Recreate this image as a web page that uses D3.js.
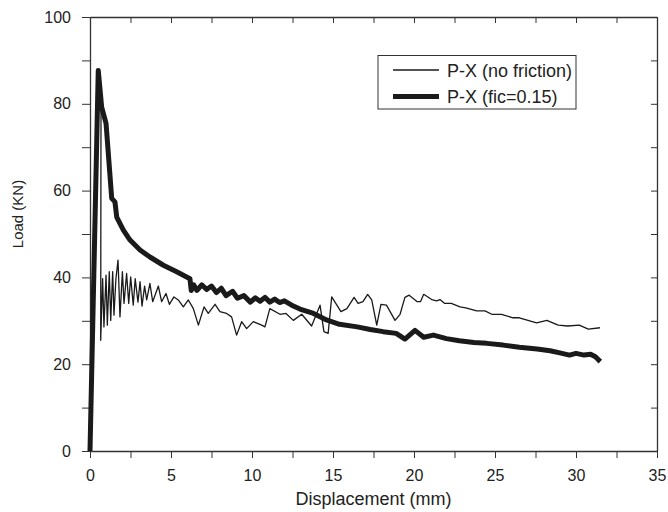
<!DOCTYPE html>
<html>
<head>
<meta charset="utf-8">
<script src="https://d3js.org/d3.v7.min.js"></script>
<style>
  body { margin: 0; background: #fff; }
  text { font-family: "Liberation Sans", Arial, sans-serif; fill: #222; }
</style>
</head>
<body>
<div id="chart"></div>
<script>

// series: displacement (mm) and load (KN)
var noFrictionX = [0, 0.5, 0.68, 0.66, 0.78, 0.86, 0.99, 1.07, 1.19, 1.28, 1.40, 1.48, 1.60, 1.73, 1.85, 2.0, 2.1, 2.26, 2.39, 2.51, 2.67, 2.79, 2.96, 3.09, 3.21, 3.37, 3.5, 3.7, 3.87, 4.22, 4.42, 4.69, 4.9, 5.18, 5.45, 5.76, 6.07, 6.38, 6.69, 7.04, 7.3, 7.72, 8.02, 8.43, 8.74, 9.05, 9.36, 9.67, 10.08, 10.6, 10.8, 11.1, 11.73, 12.1, 12.55, 13.07, 13.68, 14.2, 14.44, 14.7, 14.92, 15.49, 15.86, 16.3, 16.55, 16.85, 17.14, 17.39, 17.7, 17.96, 18.3, 18.83, 19.14, 19.44, 19.7, 20.2, 20.4, 20.6, 21.09, 21.4, 21.6, 21.9, 22.3, 22.84, 23.2, 23.87, 24.38, 24.8, 25.4, 26.1, 26.5, 27.57, 28.2, 28.9, 29.5, 30.2, 30.76, 31.48];
var noFrictionY = [0, 87, 80, 25.5, 39.7, 28.6, 40.5, 29, 41.3, 30.1, 41.3, 31.3, 39.7, 44, 30.9, 41.3, 34, 40.9, 34, 40.1, 33.6, 39.7, 34.3, 39, 33.4, 38, 34.8, 38.6, 34.4, 38, 34.4, 36.3, 33.8, 35.5, 34.8, 33.2, 34.8, 32.8, 29, 33.2, 31.7, 33.8, 32.1, 31.7, 30.9, 26.7, 29.8, 28.2, 29.8, 29, 28.6, 32.8, 31.5, 31.7, 30.1, 31.5, 28.8, 33.6, 27.5, 27.1, 35.5, 32.1, 32.8, 35.4, 34, 34.4, 36.1, 34.8, 29, 33.8, 33.6, 30.1, 31.5, 35.4, 35.9, 34.4, 34.4, 36.1, 34.9, 34.6, 34.9, 34.0, 34.0, 33.2, 33.0, 32.3, 32.3, 31.5, 31.5, 30.7, 30.7, 29.5, 30.1, 29, 28.8, 29, 28.1, 28.4];

var frictionX = [0, 0.51, 0.72, 0.99, 1.34, 1.54, 1.65, 2.06, 2.47, 3.09, 3.7, 4.53, 5.35, 6.17, 6.25, 6.4, 6.6, 6.9, 7.2, 7.5, 7.8, 8.1, 8.4, 8.8, 9.1, 9.5, 9.9, 10.2, 10.5, 10.8, 11.1, 11.4, 11.7, 12.0, 12.45, 12.96, 13.8, 14.6, 15.4, 16.5, 17.3, 18.1, 18.9, 19.44, 20.06, 20.6, 21.2, 22.0, 22.8, 23.7, 24.5, 25.5, 26.5, 27.6, 28.4, 29.0, 29.6, 30.0, 30.5, 30.9, 31.2, 31.5];
var frictionY = [0, 87.7, 79.2, 75.5, 58.2, 57.4, 53.9, 50.9, 48.6, 46.3, 44.7, 42.8, 41.3, 39.7, 37, 38.3, 37, 38.3, 37.2, 38, 36.5, 37.5, 35.8, 36.8, 35.2, 35.8, 34.3, 35.3, 34.5, 35.4, 34.3, 35, 34.2, 34.6, 33.6, 32.7, 31.7, 30.2, 29.2, 28.6, 28.0, 27.5, 27.1, 25.8, 27.8, 26.2, 26.7, 25.9, 25.4, 25.0, 24.8, 24.4, 23.9, 23.5, 23.1, 22.6, 22.1, 22.5, 22.1, 22.3, 21.7, 20.6];

var xTicks = [0, 5, 10, 15, 20, 25, 30, 35];
var yTicks = [0, 20, 40, 60, 80, 100];
var seriesNames = ["P-X (no friction)", "P-X (fic=0.15)"];

var margin = {top: 17, right: 11, bottom: 61, left: 90},
    width = 668 - margin.left - margin.right,
    height = 512 - margin.top - margin.bottom;

var svg = d3.select("#chart")
  .append("svg")
    .attr("width", 668)
    .attr("height", 512)
  .append("g")
    .attr("transform", "translate(" + margin.left + "," + margin.top + ")");

var x = d3.scaleLinear().domain([0, 35]).range([0, width]);
var y = d3.scaleLinear().domain([0, 100]).range([height, 0]);

var minorX = d3.range(0, 35.01, 2.5);
var minorY = d3.range(0, 100.01, 10);

function styleAxis(g) {
  g.select(".domain").attr("stroke", "#333").attr("stroke-width", 1.3);
  g.selectAll(".tick line").attr("stroke", "#333").attr("stroke-width", 1);
  g.selectAll(".tick text").style("font-size", "16px").attr("fill", "#222");
}

// bottom axis: minor ticks every 2.5, labels every 5
svg.append("g")
  .attr("transform", "translate(0," + height + ")")
  .call(d3.axisBottom(x).tickValues(minorX).tickSizeOuter(0).tickSizeInner(7)
    .tickFormat(function(d) { return xTicks.indexOf(d) >= 0 ? d : ""; }))
  .call(styleAxis)
  .call(function(g) { g.selectAll(".tick text").attr("dy", "1.25em"); });

// left axis
svg.append("g")
  .call(d3.axisLeft(y).tickValues(minorY).tickSizeOuter(0).tickSizeInner(8)
    .tickFormat(function(d) { return yTicks.indexOf(d) >= 0 ? d : ""; }))
  .call(styleAxis)
  .call(function(g) { g.selectAll(".tick text").attr("x", -19); });

// top and right axes, ticks pointing in
svg.append("g")
  .call(d3.axisBottom(x).tickValues(minorX).tickSizeOuter(0).tickSizeInner(6).tickFormat(""))
  .call(styleAxis);
svg.append("g")
  .attr("transform", "translate(" + width + ",0)")
  .call(d3.axisLeft(y).tickValues(minorY).tickSizeOuter(0).tickSizeInner(6).tickFormat(""))
  .call(styleAxis);

// axis titles
svg.append("text")
  .attr("x", width / 2)
  .attr("y", height + 54)
  .style("text-anchor", "middle")
  .style("font-size", "18px")
  .text("Displacement (mm)");

svg.append("text")
  .attr("transform", "rotate(-90)")
  .attr("x", -(height / 2) + 20)
  .attr("y", -67)
  .style("text-anchor", "middle")
  .style("font-size", "15px")
  .text("Load (KN)");

var line = d3.line()
  .x(function(d) { return x(d[0]); })
  .y(function(d) { return y(d[1]); });

var thinData = d3.zip(noFrictionX, noFrictionY);
var thickData = d3.zip(frictionX, frictionY);

svg.append("path")
  .datum(thinData)
  .attr("fill", "none")
  .attr("stroke", "#1a1a1a")
  .attr("stroke-width", 1.3)
  .attr("stroke-linejoin", "round")
  .attr("d", line);

svg.append("path")
  .datum(thickData)
  .attr("fill", "none")
  .attr("stroke", "#1a1a1a")
  .attr("stroke-width", 5)
  .attr("stroke-linejoin", "round")
  .attr("d", line);

// legend
var legend = svg.append("g").attr("transform", "translate(288,38.5)");
legend.append("rect")
  .attr("width", 198)
  .attr("height", 53.5)
  .attr("fill", "#fff")
  .attr("stroke", "#333")
  .attr("stroke-width", 1);

var widths = [1.3, 5];
seriesNames.forEach(function(name, i) {
  var ly = 14.5 + i * 26.5;
  legend.append("line")
    .attr("x1", 15).attr("x2", 61)
    .attr("y1", ly).attr("y2", ly)
    .attr("stroke", "#1a1a1a")
    .attr("stroke-width", widths[i]);
  legend.append("text")
    .attr("x", 69)
    .attr("y", ly + 6.5)
    .style("font-size", "18px")
    .text(name);
});

</script>
</body>
</html>
